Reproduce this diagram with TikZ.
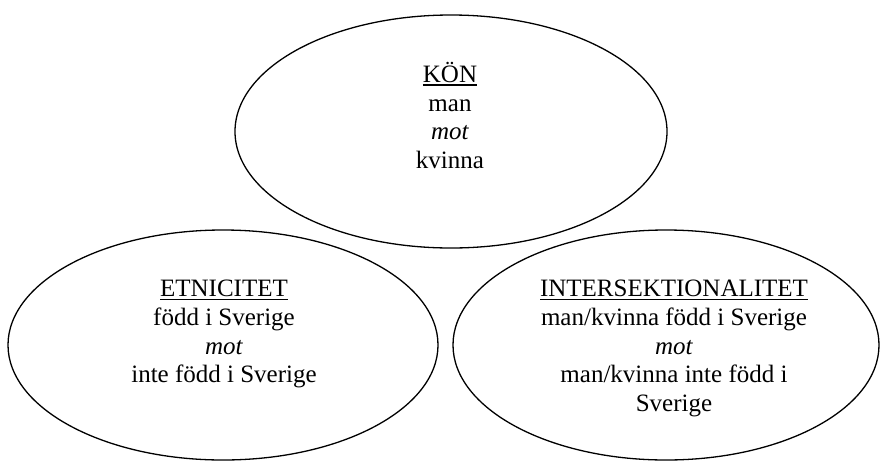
\documentclass[tikz,border=0pt]{standalone}
\usepackage{fontspec}
\setmainfont{Liberation Serif}
\usetikzlibrary{positioning,shapes.geometric}
\tikzset{%
  oval/.style={%
    ellipse,
    draw=black,
    line width=1.3pt,
    inner sep=0pt
  },
  ovaltext/.style={%
    align=center,
    inner sep=0pt,
    font=\fontsize{25}{28.7}\selectfont
  }
}
\newsavebox{\rubrikbox}
\newcommand{\rubrik}[1]{%
  \sbox{\rubrikbox}{#1}%
  \rlap{\raisebox{-3.6pt}{\rule{\wd\rubrikbox}{1.7pt}}}\usebox{\rubrikbox}}

\begin{document}
\begin{tikzpicture}[x=1pt,y=-1pt]
    \useasboundingbox (0,0) rectangle (880,461);
    % the three ovals
    \node[oval,minimum width=432,minimum height=233] (kon) at (451,131.5) {};
    \node[oval,minimum width=430,minimum height=230] (etn) at (223,345) {};
    \node[oval,minimum width=426,minimum height=230] (inter) at (666,345) {};

    \node[ovaltext,anchor=north] (kontext) at (450,62)
      {\rubrik{KÖN}\\ man\\ \textit{mot}\\ kvinna};
    \node[ovaltext,anchor=north] (etntext) at (224,280)
      {\rubrik{ETNICITET}\\ född i Sverige\\ \textit{mot}\\ inte född i Sverige};
    \node[ovaltext,anchor=north] (intertext) at (674,280)
      {\rubrik{INTERSEKTIONALITET}\\ man/kvinna född i Sverige\\ \textit{mot}\\
       man/kvinna inte född i\\ Sverige};
\end{tikzpicture}
\end{document}
